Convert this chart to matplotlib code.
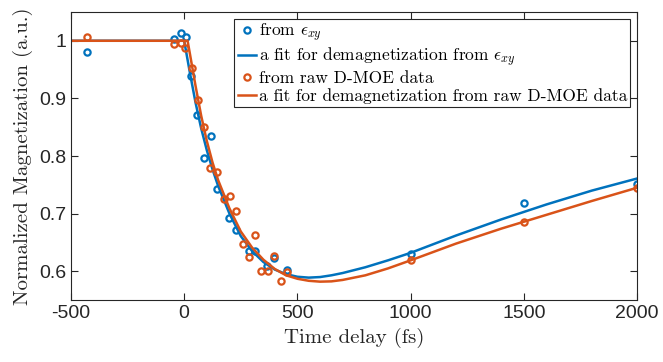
import matplotlib
matplotlib.use('Agg')
import matplotlib.pyplot as plt

# measured points
t_exy = [-430, -47, -16, 6, 28, 57, 87, 119, 145, 200, 229, 288, 313, 366, 398, 454, 1000, 1500, 2000]
m_exy = [0.981, 1.003, 1.013, 1.006, 0.938, 0.872, 0.797, 0.834, 0.743, 0.693, 0.672, 0.635, 0.635,
         0.609, 0.623, 0.603, 0.630, 0.719, 0.752]

t_raw = [-430, -47, -16, 5, 34, 60, 87, 116, 145, 174, 203, 229, 258, 285, 313, 339, 369, 398, 427,
         454, 1000, 1500, 2000]
m_raw = [1.007, 0.995, 0.996, 0.987, 0.953, 0.898, 0.851, 0.779, 0.772, 0.726, 0.731, 0.704, 0.648,
         0.624, 0.663, 0.601, 0.601, 0.626, 0.583, 0.599, 0.620, 0.685, 0.745]

# fit curves
fit_t_exy = [-500, -100, 0, 25, 50, 75, 100, 125, 150, 200, 250, 300, 350, 400, 450, 500, 550, 600,
             650, 700, 800, 900, 1000, 1200, 1400, 1600, 1800, 2000]
fit_exy = [1.0, 1.0, 1.0, 0.945, 0.893, 0.848, 0.810, 0.777, 0.748, 0.700, 0.661, 0.635, 0.616,
           0.603, 0.595, 0.5905, 0.589, 0.590, 0.593, 0.597, 0.607, 0.619, 0.632, 0.662, 0.690,
           0.716, 0.740, 0.761]

fit_t_raw = [-500, -100, 0, 15, 25, 50, 75, 100, 125, 150, 200, 250, 300, 350, 400, 450, 500, 550,
             600, 650, 700, 800, 900, 1000, 1200, 1400, 1600, 1800, 2000]
fit_raw = [1.0, 1.0, 1.0, 1.0, 0.978, 0.922, 0.870, 0.826, 0.789, 0.758, 0.709, 0.669, 0.641,
           0.620, 0.604, 0.593, 0.587, 0.5835, 0.582, 0.5825, 0.585, 0.593, 0.605, 0.619, 0.648,
           0.674, 0.698, 0.722, 0.745]

blue = '#0072BD'
orange = '#D95319'

plt.rcParams['mathtext.fontset'] = 'cm'
plt.rcParams['axes.unicode_minus'] = False

fig = plt.figure(figsize=(6.63, 3.62), dpi=100)
ax = fig.add_axes([0.107, 0.171, 0.854, 0.796])

ax.plot(t_exy, m_exy, 'o', color=blue, mfc='none', ms=4.5, mew=1.6, label=r'from $\epsilon_{xy}$')
ax.plot(fit_t_exy, fit_exy, '-', color=blue, lw=1.8, label=r'a fit for demagnetization from $\epsilon_{xy}$')
ax.plot(t_raw, m_raw, 'o', color=orange, mfc='none', ms=4.5, mew=1.6, label='from raw D-MOE data')
ax.plot(fit_t_raw, fit_raw, '-', color=orange, lw=1.8, label='a fit for demagnetization from raw D-MOE data')

ax.set_xlim(-500, 2000)
ax.set_ylim(0.55, 1.05)
ax.set_xticks([-500, 0, 500, 1000, 1500, 2000])
ax.set_yticks([0.6, 0.7, 0.8, 0.9, 1.0])
ax.set_yticklabels(['0.6', '0.7', '0.8', '0.9', '1'])
ax.tick_params(direction='in', top=True, right=True, labelsize=14, colors='#262626', length=5, width=0.8)
for lab in ax.get_xticklabels() + ax.get_yticklabels():
    lab.set_fontfamily('Liberation Sans')
for s in ax.spines.values():
    s.set_color('#262626')
    s.set_linewidth(0.8)

ax.set_xlabel('Time delay (fs)', fontfamily='cmr10', fontsize=15, color='#262626')
ax.set_ylabel('Normalized Magnetization (a.u.)', fontfamily='cmr10', fontsize=15, color='#262626')

leg = ax.legend(loc='upper right', bbox_to_anchor=(0.988, 0.976), borderaxespad=0,
                prop={'family': 'cmr10', 'size': 12.5}, fancybox=False, framealpha=1,
                edgecolor='#262626', handlelength=1.05, handletextpad=0.15, labelspacing=0.1,
                borderpad=0.2)
leg.get_frame().set_linewidth(0.8)

fig.savefig('out.png', dpi=100)
